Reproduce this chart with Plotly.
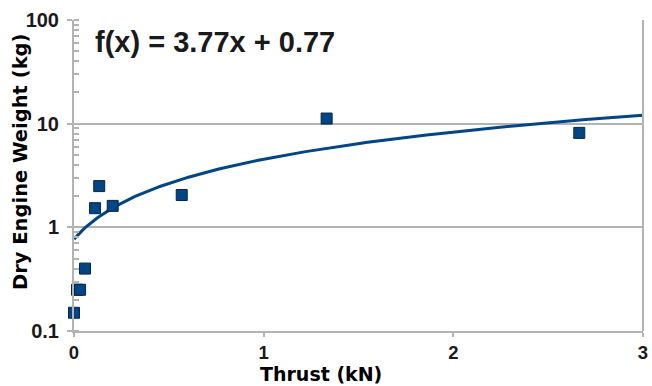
import numpy as np
import plotly.graph_objects as go

thrust_kn = [0.0, 0.016, 0.032, 0.058, 0.111, 0.133, 0.204, 0.568, 1.332, 2.664]
weight_kg = [0.15, 0.25, 0.25, 0.40, 1.53, 2.5, 1.61, 2.05, 11.2, 8.15]
slope = 3.77
intercept = 0.77
x_ticks = [0, 1, 2, 3]
y_ticks = [0.1, 1, 10, 100]
y_tick_labels = ["0.1", "1", "10", "100"]

trend_x = np.linspace(0, 3, 200)
trend_y = slope * trend_x + intercept

BLUE = "#004586"
GRID = "#b3b3b3"

fig = go.Figure()
fig.add_trace(go.Scatter(x=trend_x, y=trend_y, mode="lines",
                         line=dict(color=BLUE, width=3), hoverinfo="skip"))
fig.add_trace(go.Scatter(x=thrust_kn, y=weight_kg, mode="markers", cliponaxis=False,
                         marker=dict(symbol="square", size=11, color=BLUE,
                                     line=dict(color="#0b2540", width=1))))

fig.update_layout(
    width=652, height=386,
    margin=dict(l=74, r=9, t=20, b=55),
    paper_bgcolor="white", plot_bgcolor="white",
    showlegend=False,
    font=dict(family="Liberation Sans", color="#1a1a1a"),
    xaxis=dict(range=[0, 3], tickvals=x_ticks, showgrid=False, zeroline=False,
               automargin=False,
               showline=True, linecolor=GRID, linewidth=2,
               ticks="outside", ticklen=4, tickcolor=GRID, tickwidth=2,
               tickfont=dict(family="Liberation Sans", size=18.5, color="#1a1a1a", weight="bold")),
    yaxis=dict(type="log", range=[-1, 2], tickvals=y_ticks, ticktext=y_tick_labels,
               automargin=False, ticklabelstandoff=4,
               showgrid=True, gridcolor=GRID, gridwidth=1.5, zeroline=False,
               showline=True, linecolor=GRID, linewidth=2,
               ticks="outside", ticklen=5, tickcolor=GRID, tickwidth=2,
               tickfont=dict(family="Liberation Sans", size=20, color="#1a1a1a", weight="bold"),
               minor=dict(ticks="inside", ticklen=5, tickcolor=GRID, tickwidth=1.5,
                          dtick="D1", showgrid=False)),
    shapes=[dict(type="line", xref="paper", yref="paper", x0=1, x1=1, y0=0, y1=1,
                 line=dict(color=GRID, width=2))],
    annotations=[
        dict(text="f(x) = 3.77x + 0.77", xref="paper", yref="paper",
             x=(93 - 74) / 569, y=(331 - 42) / 311, xanchor="left", yanchor="middle",
             showarrow=False,
             font=dict(family="Liberation Sans", size=29, color="#1a1a1a", weight="bold")),
        dict(text="Thrust (kN)", xref="paper", yref="paper",
             x=(321 - 74) / 569, y=-(386 - 331) / 311, xanchor="center", yanchor="bottom",
             showarrow=False, borderpad=0,
             font=dict(family="DejaVu Sans", size=19, color="#000000", weight="bold")),
        dict(text="Dry Engine Weight (kg)", xref="paper", yref="paper",
             x=-(74 - 20) / 569, y=(331 - 162) / 311, xanchor="center", yanchor="middle",
             textangle=-90, showarrow=False,
             font=dict(family="DejaVu Sans", size=19.5, color="#000000", weight="bold")),
    ],
)

fig.write_html("out.html", config={"displayModeBar": False},
               post_script="document.body.style.margin='0';document.body.style.overflow='hidden';")
